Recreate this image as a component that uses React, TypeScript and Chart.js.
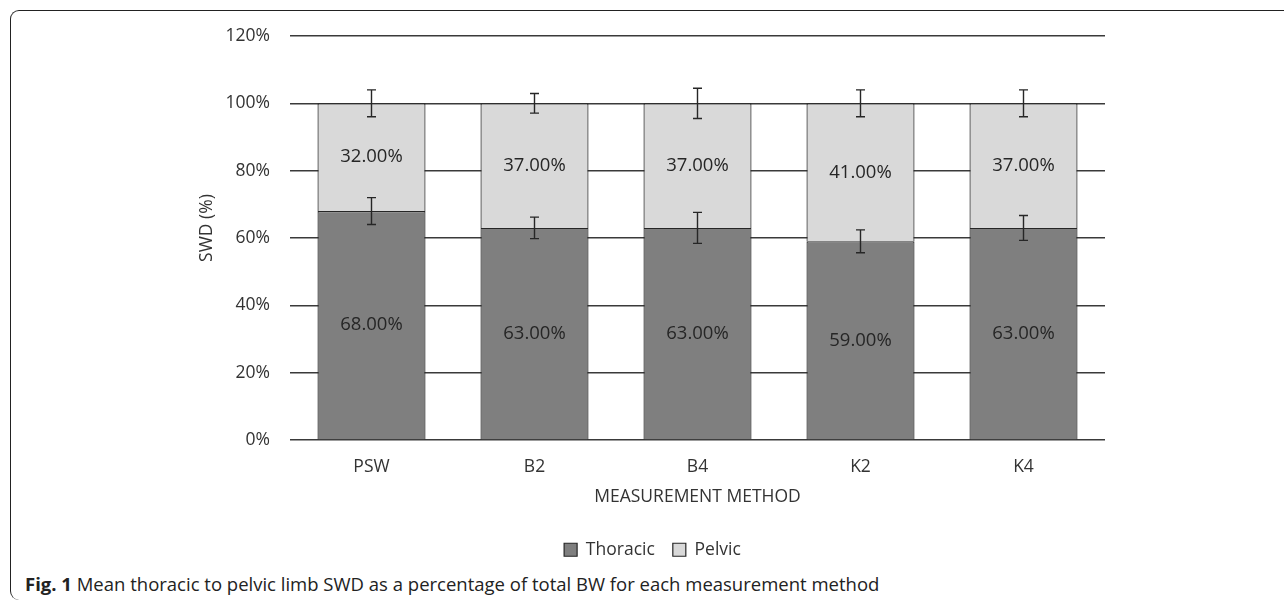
import { useEffect, useRef } from "react";
import { Chart, registerables } from "chart.js";

Chart.register(...registerables);

const categories = ["PSW", "B2", "B4", "K2", "K4"];
const seriesNames = ["Thoracic", "Pelvic"];
const thoracic = [68, 63, 63, 59, 63];
const pelvic = [32, 37, 37, 41, 37];
const thoracicErr = [4, 3.2, 4.6, 3.4, 3.7];
const pelvicErr = [4, 2.9, 4.5, 4, 4];
const yTickValues = [0, 20, 40, 60, 80, 100, 120];
const yTitle = "SWD (%)";
const xTitle = "MEASUREMENT METHOD";
const captionBold = "Fig. 1";
const captionText = " Mean thoracic to pelvic limb SWD as a percentage of total BW for each measurement method";

const FONT = "'Open Sans', sans-serif";
const TEXT = "#333333";

const overlayPlugin = {
  id: "overlay",
  afterDatasetsDraw(chart: any) {
    const ctx = chart.ctx;
    const y = chart.scales.y;
    const errs = [thoracicErr, pelvicErr];
    const vals = [thoracic, pelvic];
    chart.data.datasets.forEach((ds: any, i: number) => {
      const meta = chart.getDatasetMeta(i);
      meta.data.forEach((bar: any, j: number) => {
        ctx.save();
        ctx.fillStyle = "#262626";
        ctx.font = `18.5px ${FONT}`;
        ctx.textAlign = "center";
        ctx.textBaseline = "middle";
        ctx.fillText(vals[i][j].toFixed(2) + "%", bar.x, (bar.y + bar.base) / 2);
        ctx.restore();
      });
    });
    chart.data.datasets.forEach((ds: any, i: number) => {
      const meta = chart.getDatasetMeta(i);
      meta.data.forEach((bar: any, j: number) => {
        let top = 0;
        for (let k = 0; k <= i; k++) top += vals[k][j];
        const e = errs[i][j];
        const y1 = y.getPixelForValue(top + e);
        const y2 = y.getPixelForValue(top - e);
        const cap = 4.5;
        ctx.save();
        ctx.strokeStyle = "#262626";
        ctx.lineWidth = 1.4;
        ctx.beginPath();
        ctx.moveTo(bar.x, y1);
        ctx.lineTo(bar.x, y2);
        ctx.moveTo(bar.x - cap, y1);
        ctx.lineTo(bar.x + cap, y1);
        ctx.moveTo(bar.x - cap, y2);
        ctx.lineTo(bar.x + cap, y2);
        ctx.stroke();
        ctx.restore();
      });
    });
  },
  afterDraw(chart: any) {
    const ctx = chart.ctx;
    const area = chart.chartArea;
    ctx.save();
    ctx.translate(207, area.top + (area.bottom - area.top) / 2 - 10);
    ctx.rotate(-Math.PI / 2);
    ctx.fillStyle = TEXT;
    ctx.font = `17.5px ${FONT}`;
    ctx.textAlign = "center";
    ctx.textBaseline = "middle";
    ctx.fillText(yTitle, 0, 0);
    ctx.restore();
  },
};

export default function App() {
  const ref = useRef<HTMLCanvasElement | null>(null);
  useEffect(() => {
    document.body.style.margin = "0";
    const canvas = ref.current!;
    const chart = new Chart(canvas, {
      type: "bar",
      data: {
        labels: categories,
        datasets: [
          {
            label: seriesNames[0],
            data: thoracic,
            backgroundColor: "#7f7f7f",
            borderColor: "#262626",
            borderWidth: 1.2,
          },
          {
            label: seriesNames[1],
            data: pelvic,
            backgroundColor: "#d9d9d9",
            borderColor: "#262626",
            borderWidth: 1.2,
          },
        ],
      },
      options: {
        animation: false,
        responsive: false,
        devicePixelRatio: 1,
        layout: { padding: { left: 200, right: 179, top: 36, bottom: 1.5 } },
        datasets: { bar: { categoryPercentage: 1, barPercentage: 0.663 } },
        plugins: {
          legend: {
            position: "bottom",
            labels: {
              font: { family: FONT, size: 17.5 },
              color: TEXT,
              boxWidth: 13,
              boxHeight: 13,
              padding: 18,
            },
          },
          tooltip: { enabled: false },
        },
        scales: {
          x: {
            stacked: true,
            grid: { display: false, drawTicks: false },
            border: { display: false },
            ticks: { font: { family: FONT, size: 17.5 }, color: TEXT, padding: 17 },
            title: {
              display: true,
              text: xTitle,
              font: { family: FONT, size: 17.5 },
              color: TEXT,
              padding: { top: 0, bottom: 15.5 },
            },
            afterFit: (s: any) => {
              s.height = 83;
            },
          },
          y: {
            stacked: true,
            min: 0,
            max: 120,
            afterBuildTicks: (s: any) => {
              s.ticks = yTickValues.map((v) => ({ value: v }));
            },
            grid: { color: "#3a3a3a", lineWidth: 1.5, drawTicks: false },
            border: { display: false },
            ticks: {
              font: { family: FONT, size: 17.5 },
              color: TEXT,
              padding: 20,
              callback: (v: any) => v + "%",
            },
            afterFit: (s: any) => {
              s.width = 90;
            },
          },
        },
      },
      plugins: [overlayPlugin],
    });
    return () => chart.destroy();
  }, []);

  return (
    <div style={{ position: "fixed", left: 0, top: 0, width: 1284, height: 603, overflow: "hidden", background: "#fff" }}>
      <div
        style={{
          position: "absolute",
          left: 10,
          top: 10,
          width: 1400,
          height: 590,
          borderTop: "1.6px solid #222",
          borderLeft: "1.6px solid #222",
          borderTopLeftRadius: 9,
          borderBottomLeftRadius: 9,
          boxSizing: "border-box",
        }}
      />
      <canvas ref={ref} width={1284} height={570} style={{ position: "absolute", left: 0, top: 0 }} />
      <div
        style={{
          position: "absolute",
          left: 25,
          top: 571,
          fontFamily: FONT,
          fontSize: 18.5,
          color: "#222",
          whiteSpace: "nowrap",
          lineHeight: "26px",
        }}
      >
        <b>{captionBold}</b>
        {captionText}
      </div>
    </div>
  );
}
